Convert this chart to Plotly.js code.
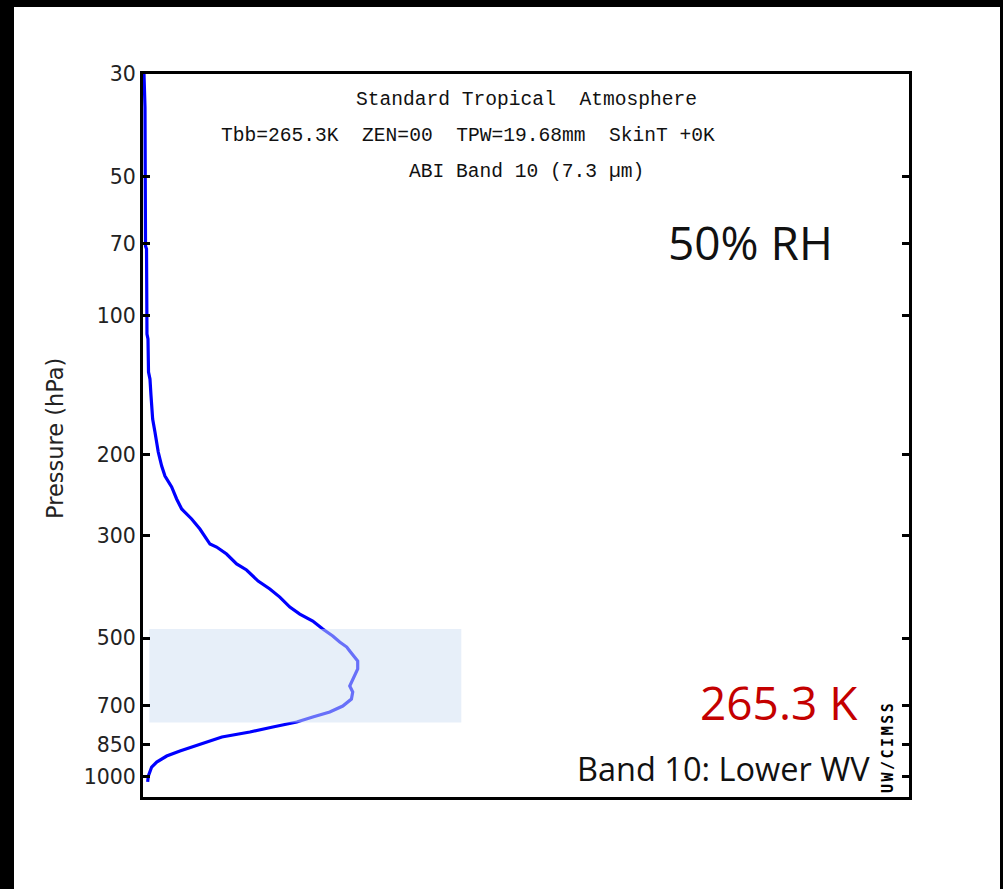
<!DOCTYPE html>
<html>
<head>
<meta charset="utf-8">
<script src="https://cdn.plot.ly/plotly-3.0.1.min.js"></script>
<style>
  html, body { margin: 0; padding: 0; background: #000; width: 1003px; height: 889px; overflow: hidden; }
  #chart { position: absolute; left: 14px; top: 7px; width: 986px; height: 882px; background: #fff; }
</style>
</head>
<body>
<div id="chart"></div>
<script>
// Weighting function profile (pressure in hPa, relative weighting)
const pressure = [30, 35.4, 70.8, 71.8, 109.8, 112.5, 132.7, 137.4, 148.8, 167.7, 179, 197.7, 212, 222.9, 235.4, 249.9, 262.7, 276.1, 290.3, 312.9, 317.6, 328.9, 345.6, 356.1, 376.4, 391.5, 407.7, 428.5, 443.7, 459.4, 478.2, 495.1, 510.2, 523, 533.5, 560.9, 583.5, 613.5, 635.4, 654.7, 677.8, 702, 723.3, 741.6, 760.3, 779.5, 799.1, 819.3, 848.4, 878.6, 900.8, 928.3, 951.7, 995.5, 1025];
const weighting = [0.0013, 0.0026, 0.0033, 0.0046, 0.0052, 0.0065, 0.0072, 0.0091, 0.0104, 0.0126, 0.0156, 0.0199, 0.0244, 0.0287, 0.0374, 0.0439, 0.0505, 0.0635, 0.0743, 0.0874, 0.0961, 0.1091, 0.1222, 0.1352, 0.1503, 0.1656, 0.1786, 0.1917, 0.2047, 0.2216, 0.2347, 0.2477, 0.2568, 0.2660, 0.2699, 0.2803, 0.2803, 0.2738, 0.2699, 0.2738, 0.2721, 0.2608, 0.2438, 0.2216, 0.2008, 0.1695, 0.1395, 0.1030, 0.0743, 0.0482, 0.0309, 0.0179, 0.0113, 0.0069, 0.0061];

// Highlighted layer band
const bandPressure = [478, 762];
const bandWeight = [0.0082, 0.4155];

// Axis ticks
const tickValues = [30, 50, 70, 100, 200, 300, 500, 700, 850, 1000];
const tickLabels = ['30', '50', '70', '100', '200', '300', '500', '700', '850', '1000'];

// Texts
const titleLines = ['Standard Tropical  Atmosphere', 'Tbb=265.3K  ZEN=00  TPW=19.68mm  SkinT +0K', 'ABI Band 10 (7.3 \u00b5m)'];
const rhLabel = '50% RH';
const tbbLabel = '265.3 K';
const bandLabel = 'Band 10: Lower WV';
const creditLabel = 'UW/CIMSS';
const yTitle = 'Pressure (hPa)';

// plot-area pixel geometry (page coords) used for placing annotations
const PL = 143, PR = 909, PT = 74, PB = 797;
const px = x => (x - PL) / (PR - PL);
const py = y => (PB - y) / (PB - PT);
const nb = s => s.replace(/ /g, '\u00a0');

const monoFont = {family: 'Liberation Mono, DejaVu Sans Mono, monospace', size: 19.6, color: '#111'};

const traces = [
  {
    x: weighting, y: pressure, type: 'scatter', mode: 'lines',
    line: {color: '#0000ff', width: 3.2}, hoverinfo: 'skip', showlegend: false
  },
  {
    x: [bandWeight[0], bandWeight[1], bandWeight[1], bandWeight[0], bandWeight[0]],
    y: [bandPressure[0], bandPressure[0], bandPressure[1], bandPressure[1], bandPressure[0]],
    type: 'scatter', mode: 'lines', fill: 'toself',
    fillcolor: 'rgba(208,224,244,0.5)', line: {width: 0}, hoverinfo: 'skip', showlegend: false
  }
];

const layout = {
  width: 986, height: 882,
  margin: {l: PL - 14, r: 986 - (PR - 14), t: PT - 7, b: 882 - (PB - 7)},
  paper_bgcolor: '#ffffff', plot_bgcolor: '#ffffff',
  showlegend: false,
  xaxis: {
    range: [0, 1], showticklabels: false, ticks: '', showgrid: false, zeroline: false,
    showline: true, linecolor: '#000', linewidth: 3, mirror: true, fixedrange: true
  },
  yaxis: {
    type: 'log', range: [Math.log10(1105), Math.log10(30)],
    tickvals: tickValues, ticktext: tickLabels,
    ticks: 'inside', ticklen: 7, tickwidth: 3, tickcolor: '#000',
    showgrid: false, zeroline: false,
    showline: true, linecolor: '#000', linewidth: 3, mirror: 'allticks',
    tickfont: {family: 'DejaVu Sans, sans-serif', size: 20.5, color: '#222'},
    fixedrange: true
  },
  annotations: [
    {text: nb(titleLines[0]), xref: 'paper', yref: 'paper', x: px(526), y: py(100), xanchor: 'center', yanchor: 'middle', showarrow: false, font: monoFont},
    {text: nb(titleLines[1]), xref: 'paper', yref: 'paper', x: px(467.5), y: py(136), xanchor: 'center', yanchor: 'middle', showarrow: false, font: monoFont},
    {text: nb(titleLines[2]), xref: 'paper', yref: 'paper', x: px(526), y: py(172), xanchor: 'center', yanchor: 'middle', showarrow: false, font: monoFont},
    {text: rhLabel, xref: 'paper', yref: 'paper', x: px(750), y: py(242), xanchor: 'center', yanchor: 'middle', showarrow: false,
      font: {family: 'Open Sans, sans-serif', size: 46, color: '#111'}},
    {text: tbbLabel, xref: 'paper', yref: 'paper', x: px(778.5), y: py(702), xanchor: 'center', yanchor: 'middle', showarrow: false,
      font: {family: 'Open Sans, sans-serif', size: 46, color: '#c40000'}},
    {text: bandLabel, xref: 'paper', yref: 'paper', x: px(872), y: py(768), xanchor: 'right', yanchor: 'middle', showarrow: false,
      font: {family: 'Open Sans, sans-serif', size: 32.5, color: '#111'}},
    {text: '<span style="letter-spacing:2.5px">' + creditLabel + '</span>', xref: 'paper', yref: 'paper', x: px(888), y: py(747), xanchor: 'center', yanchor: 'middle', showarrow: false, textangle: -90,
      font: {family: 'DejaVu Sans Mono, monospace', size: 15, color: '#000', weight: 'bold'}},
    {text: yTitle, xref: 'paper', yref: 'paper', x: px(55), y: py(439), xanchor: 'center', yanchor: 'middle', showarrow: false, textangle: -90,
      font: {family: 'DejaVu Sans, sans-serif', size: 22.5, color: '#222'}}
  ]
};

Plotly.newPlot('chart', traces, layout, {staticPlot: true, displayModeBar: false});
</script>
</body>
</html>
